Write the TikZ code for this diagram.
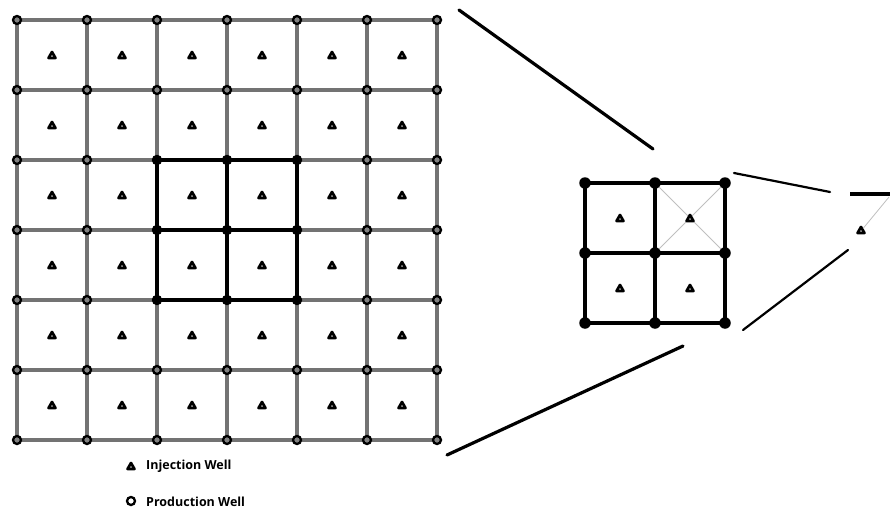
\documentclass[tikz,border=0pt]{standalone}
\usepackage{fontspec}
\setmainfont{Open Sans}
\usetikzlibrary{shapes.geometric}
\tikzset{
  prod/.style={circle,draw=black,fill=gray,line width=2.3pt,minimum size=8pt,inner sep=0pt},
  inj/.style={regular polygon,regular polygon sides=3,draw=black,fill=white,line width=2.7pt,line join=round,minimum size=8pt,inner sep=0pt},
  blk/.style={circle,fill=black,minimum size=9.5pt,inner sep=0pt},
  bigblk/.style={circle,fill=black,minimum size=11.5pt,inner sep=0pt},
  gridline/.style={draw=black!55,line width=3.2pt},
  blkline/.style={draw=black,line width=3.2pt},
  thickline/.style={draw=black,line width=4pt},
  zoomline/.style={draw=black,line width=3.2pt,line cap=round},
  thinline/.style={draw=black,line width=2.2pt,line cap=round},
  legend/.style={anchor=west,font=\bfseries\fontsize{12.5}{14}\selectfont,inner sep=0pt},
}
\begin{document}
\begin{tikzpicture}[x=1pt,y=-1pt]
\useasboundingbox (0,0) rectangle (890,508);
% main grid
\foreach \i in {0,...,6}
  \foreach \j in {0,...,6}
    \coordinate (c-\i-\j) at (17+70*\i,20+70*\j);
\foreach \i in {0,...,6}{
  \draw[gridline] (c-\i-0) -- (c-\i-6);
  \draw[gridline] (c-0-\i) -- (c-6-\i);
}
% highlighted block
\foreach \i in {2,3,4}{
  \draw[blkline] (c-\i-2) -- (c-\i-4);
  \draw[blkline] (c-2-\i) -- (c-4-\i);
}
\foreach \i in {0,...,6}
  \foreach \j in {0,...,6}
    \node[prod] (w-\i-\j) at (c-\i-\j) {};
\foreach \i in {2,3,4}
  \foreach \j in {2,3,4}
    \node[blk] (b-\i-\j) at (c-\i-\j) {};
\foreach \i in {0,...,5}
  \foreach \j in {0,...,5}
    \node[inj] (t-\i-\j) at (52+70*\i,56+70*\j) {};
% zoomed 2x2 element
\foreach \i in {0,1,2}
  \foreach \j in {0,1,2}
    \coordinate (r-\i-\j) at (585+70*\i,183+70*\j);
\draw[gray!50,line width=0.8pt] (r-1-0) -- (r-2-1) (r-2-0) -- (r-1-1);
\foreach \i in {0,1,2}{
  \draw[thickline] (r-\i-0) -- (r-\i-2);
  \draw[thickline] (r-0-\i) -- (r-2-\i);
}
\foreach \i in {0,1,2}
  \foreach \j in {0,1,2}
    \node[bigblk] (rb-\i-\j) at (r-\i-\j) {};
\foreach \i in {0,1}
  \foreach \j in {0,1}
    \node[inj] (rt-\i-\j) at (620+70*\i,219+70*\j) {};
% zoom lines
\draw[zoomline] (459,10) -- (653,149);
\draw[zoomline] (447,455) -- (683,346);
\draw[thinline] (734,173) -- (830,192);
\draw[thinline] (743,330) -- (848,250);
% quarter element
\draw[thickline] (850,194) -- (890,194);
\node[inj] (q) at (861,231) {};
\draw[gray!50,line width=0.8pt] (889,197) -- (q);
% legend
\node[inj] (li) at (131,467) {};
\node[legend] (lit) at (146,466) {Injection Well};
\node[prod,fill=white] (lp) at (131,501) {};
\node[legend] (lpt) at (146,502) {Production Well};
\end{tikzpicture}
\end{document}
